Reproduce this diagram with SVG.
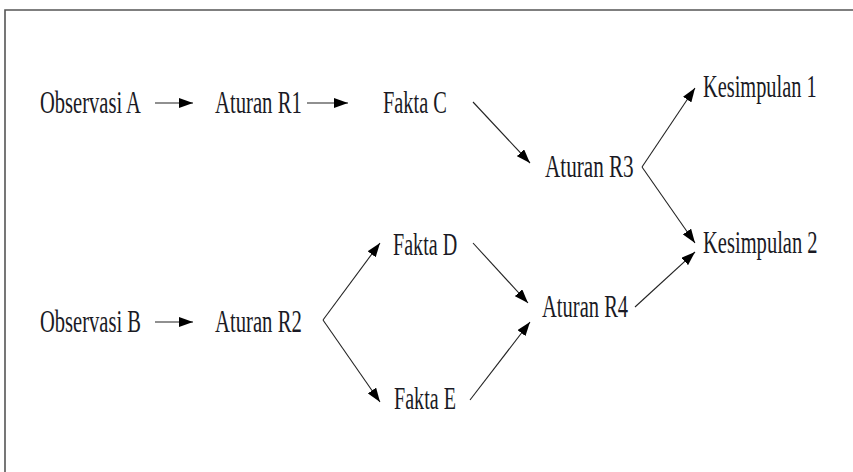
<svg xmlns="http://www.w3.org/2000/svg" width="853" height="472" viewBox="0 0 853 472">
<style>
.t{font-family:"Liberation Serif","Times New Roman",serif;font-size:32px;fill:#1a1a24}
.c{fill:none;stroke:#222;stroke-width:1.1}
.a{marker-end:url(#ah)}
</style>
<defs>
<marker id="ah" markerUnits="userSpaceOnUse" markerWidth="15" markerHeight="10" refX="14" refY="5" orient="auto">
<path d="M0,0 L14,5 L0,10 Z" fill="#000"/>
</marker>
</defs>
<rect width="853" height="472" fill="#fff"/>
<path d="M5,472 V10 H853" fill="none" stroke="#555" stroke-width="1.6"/>
<g id="connectors">
<path class="c a" d="M155,103 H193"/>
<path class="c a" d="M307,103 H348"/>
<path class="c a" d="M473,102 L530,163"/>
<path class="c a" d="M642,167 L695,88"/>
<path class="c a" d="M642,167 L695,243"/>
<path class="c a" d="M155,322 H193"/>
<path class="c a" d="M323,320 L380,243"/>
<path class="c a" d="M323,320 L380,402"/>
<path class="c a" d="M473,243 L528,303"/>
<path class="c a" d="M470,400 L530,322"/>
<path class="c a" d="M635,307 L695,252"/>
</g>
<g id="obsA" transform="translate(40,113) scale(0.642,1)"><text class="t">Observasi A</text></g>
<g id="r1" transform="translate(215,113) scale(0.647,1)"><text class="t">Aturan R1</text></g>
<g id="faktaC" transform="translate(383,113) scale(0.637,1)"><text class="t">Fakta C</text></g>
<g id="r3" transform="translate(545,177) scale(0.661,1)"><text class="t">Aturan R3</text></g>
<g id="k1" transform="translate(703,97) scale(0.637,1)"><text class="t">Kesimpulan 1</text></g>
<g id="k2" transform="translate(703,253) scale(0.642,1)"><text class="t">Kesimpulan 2</text></g>
<g id="obsB" transform="translate(40,332) scale(0.642,1)"><text class="t">Observasi B</text></g>
<g id="r2" transform="translate(215,332) scale(0.647,1)"><text class="t">Aturan R2</text></g>
<g id="faktaD" transform="translate(393,255) scale(0.628,1)"><text class="t">Fakta D</text></g>
<g id="faktaE" transform="translate(394,409) scale(0.628,1)"><text class="t">Fakta E</text></g>
<g id="r4" transform="translate(542,317) scale(0.642,1)"><text class="t">Aturan R4</text></g>
</svg>
